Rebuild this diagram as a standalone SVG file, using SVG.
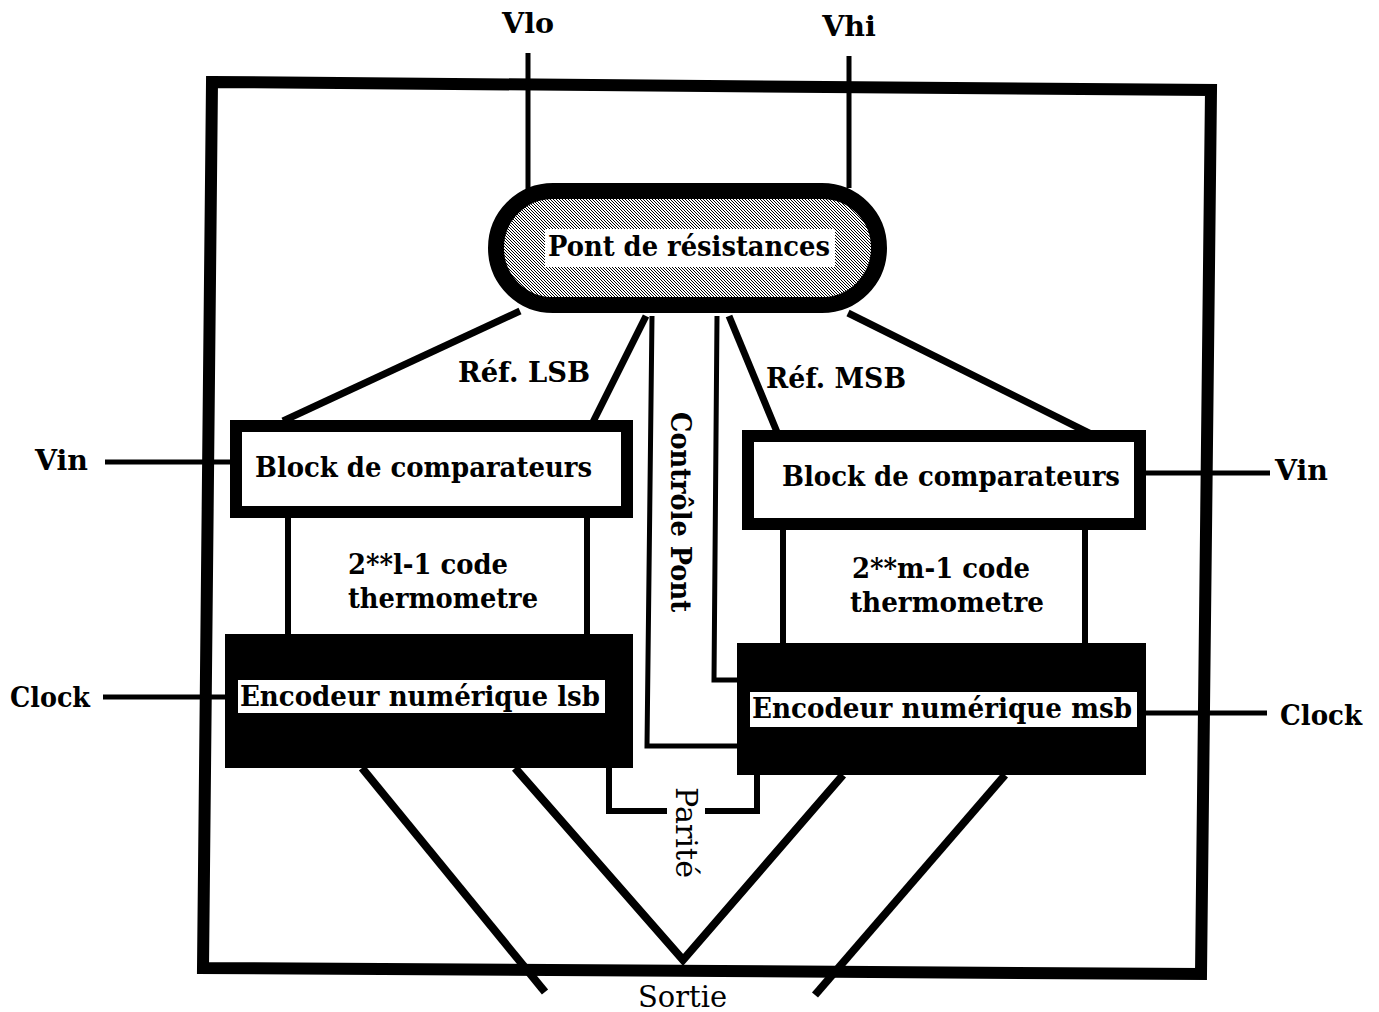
<svg xmlns="http://www.w3.org/2000/svg" width="1379" height="1012" viewBox="0 0 1379 1012">
  <defs>
    <pattern id="hatch" width="3" height="3" patternUnits="userSpaceOnUse">
      <rect width="3" height="3" fill="#fff"/>
      <rect x="0" y="0" width="1" height="1" fill="#000"/>
      <rect x="1" y="1" width="1" height="1" fill="#000"/>
      <rect x="2" y="2" width="1" height="1" fill="#000"/>
    </pattern>
  </defs>
  <style>
    text { font-family: "DejaVu Serif", "Liberation Serif", serif; font-weight: bold; fill: #000; }
    .lbl { font-size: 27px; }
    .big { font-size: 28.5px; }
    .reg { font-weight: normal; font-size: 30px; }
    .box { fill: #fff; stroke: #000; stroke-width: 12; }
    .enc { fill: #000; }
    .ln { fill: none; stroke: #000; stroke-linecap: butt; }
    .w5 { stroke-width: 5; }
    .w6 { stroke-width: 6; }
    .w7 { stroke-width: 7; }
    .w8 { stroke-width: 8; }
  </style>
  <rect width="1379" height="1012" fill="#fff"/>

  <g id="frame">
    <polygon points="212,82 1211,90 1201,974 203,968" fill="none" stroke="#000" stroke-width="12"/>
  </g>

  <g id="connectors">
    <!-- supplies -->
    <line class="ln w5" x1="528" y1="53" x2="528" y2="190"/>
    <line class="ln w5" x1="849" y1="56" x2="849" y2="188"/>
    <!-- references -->
    <line class="ln w7" x1="520" y1="311" x2="283" y2="421"/>
    <line class="ln w7" x1="646" y1="316" x2="592" y2="424"/>
    <line class="ln w7" x1="729" y1="316" x2="777" y2="432"/>
    <line class="ln w7" x1="848" y1="313" x2="1097" y2="437"/>
    <!-- controle pont -->
    <polyline class="ln w5" points="652,316 647,746 737,746"/>
    <polyline class="ln w5" points="717,316 714,680 737,680"/>
    <!-- thermometer code buses -->
    <line class="ln w6" x1="288" y1="518" x2="288" y2="634"/>
    <line class="ln w6" x1="587" y1="518" x2="587" y2="634"/>
    <line class="ln w6" x1="783" y1="530" x2="783" y2="643"/>
    <line class="ln w6" x1="1085" y1="530" x2="1085" y2="643"/>
    <!-- inputs -->
    <line class="ln w5" x1="105" y1="462" x2="236" y2="462"/>
    <line class="ln w5" x1="103" y1="697" x2="225" y2="697"/>
    <line class="ln w5" x1="1146" y1="473" x2="1270" y2="473"/>
    <line class="ln w5" x1="1146" y1="713" x2="1267" y2="713"/>
    <!-- parite -->
    <polyline class="ln w6" points="609,766 609,811 667,811"/>
    <polyline class="ln w6" points="705,811 757,811 757,775"/>
    <!-- sortie -->
    <line class="ln w8" x1="362" y1="768" x2="545" y2="992"/>
    <polyline class="ln w8" points="515,768 683,960 843,775"/>
    <line class="ln w8" x1="1005" y1="775" x2="815" y2="995"/>
  </g>

  <g id="pont">
    <rect x="496" y="191" width="383" height="114" rx="57" fill="url(#hatch)" stroke="#000" stroke-width="16"/>
    <rect x="545" y="229" width="290" height="38" fill="#fff"/>
    <text class="big" x="548" y="256" textLength="282" lengthAdjust="spacingAndGlyphs">Pont de résistances</text>
  </g>

  <g id="cmp-lsb">
    <rect class="box" x="236" y="426" width="391" height="86"/>
    <text class="big" x="255" y="477" textLength="337" lengthAdjust="spacingAndGlyphs">Block de comparateurs</text>
  </g>

  <g id="cmp-msb">
    <rect class="box" x="748" y="436" width="392" height="88"/>
    <text class="big" x="782" y="486" textLength="338" lengthAdjust="spacingAndGlyphs">Block de comparateurs</text>
  </g>

  <g id="enc-lsb">
    <rect class="enc" x="225" y="634" width="408" height="134"/>
    <rect x="238" y="680" width="367" height="33" fill="#fff"/>
    <text class="big" x="240" y="706" textLength="360" lengthAdjust="spacingAndGlyphs">Encodeur numérique lsb</text>
  </g>

  <g id="enc-msb">
    <rect class="enc" x="737" y="643" width="409" height="132"/>
    <rect x="750" y="692" width="387" height="35" fill="#fff"/>
    <text class="big" x="752" y="718" textLength="380" lengthAdjust="spacingAndGlyphs">Encodeur numérique msb</text>
  </g>

  <g id="labels">
    <text class="big" x="528" y="33" text-anchor="middle">Vlo</text>
    <text class="big" x="849" y="36" text-anchor="middle">Vhi</text>
    <text class="lbl" x="458" y="382" textLength="132" lengthAdjust="spacingAndGlyphs">Réf. LSB</text>
    <text class="lbl" x="766" y="388" textLength="140" lengthAdjust="spacingAndGlyphs">Réf. MSB</text>
    <text class="big" x="35" y="470" textLength="53" lengthAdjust="spacingAndGlyphs">Vin</text>
    <text class="big" x="10" y="707" textLength="80" lengthAdjust="spacingAndGlyphs">Clock</text>
    <text class="big" x="1275" y="480" textLength="53" lengthAdjust="spacingAndGlyphs">Vin</text>
    <text class="big" x="1280" y="725" textLength="82" lengthAdjust="spacingAndGlyphs">Clock</text>
    <text class="big" x="348" y="574" textLength="160" lengthAdjust="spacingAndGlyphs">2**l-1 code</text>
    <text class="big" x="348" y="608" textLength="190" lengthAdjust="spacingAndGlyphs">thermometre</text>
    <text class="big" x="852" y="578" textLength="178" lengthAdjust="spacingAndGlyphs">2**m-1 code</text>
    <text class="big" x="850" y="612" textLength="194" lengthAdjust="spacingAndGlyphs">thermometre</text>
    <text class="big" transform="translate(671,412) rotate(90)" x="0" y="0" textLength="200" lengthAdjust="spacingAndGlyphs">Contrôle Pont</text>
    <text class="reg" transform="translate(676,787) rotate(90)" x="0" y="0" textLength="91" lengthAdjust="spacingAndGlyphs">Parité</text>
    <text class="reg" x="638" y="1007" textLength="89" lengthAdjust="spacingAndGlyphs">Sortie</text>
  </g>
</svg>
